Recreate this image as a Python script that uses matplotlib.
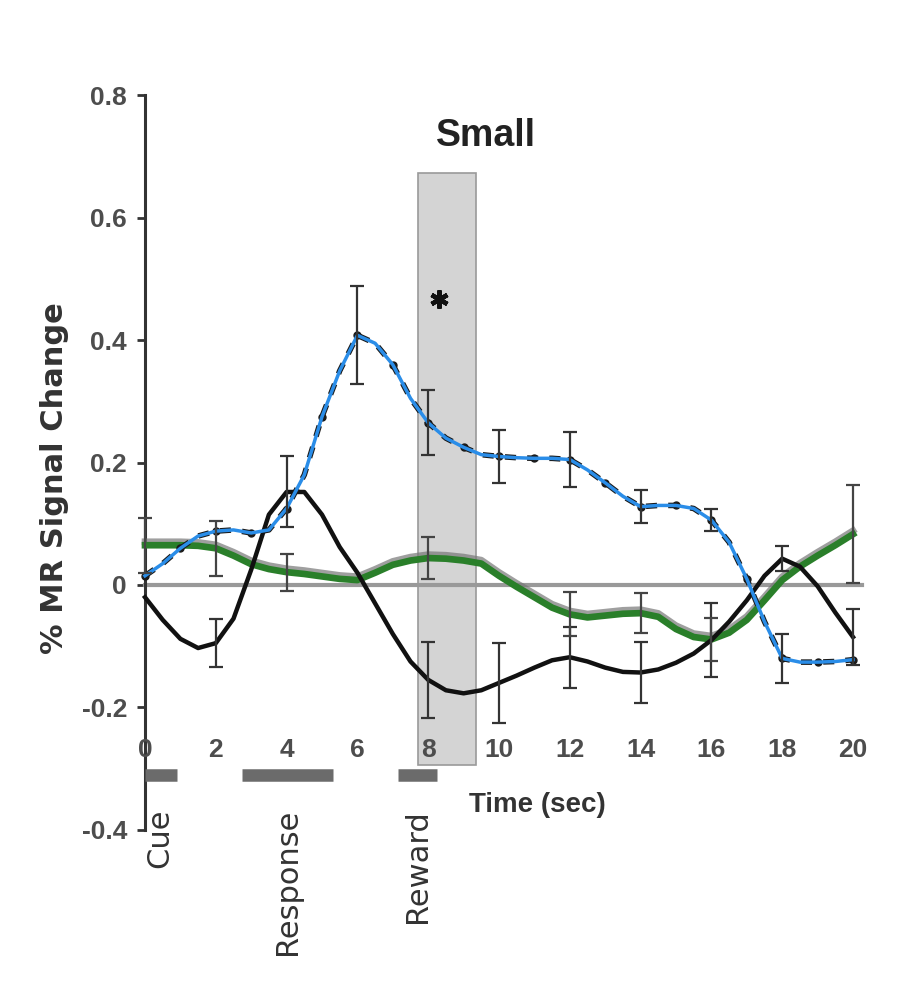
import numpy as np
import matplotlib.pyplot as plt
import matplotlib.patheffects as pe
from matplotlib.patches import Rectangle

# --------------------------------------------
# DATA
# --------------------------------------------

# time axis, 0.5 s steps
time = np.arange(0, 20.5, 0.5)

blue = [0.015, 0.035, 0.06, 0.08, 0.088, 0.09, 0.085, 0.09, 0.125, 0.18,
        0.275, 0.35, 0.408, 0.395, 0.36, 0.305, 0.265, 0.24, 0.225, 0.213,
        0.21, 0.208, 0.207, 0.207, 0.205, 0.188, 0.167, 0.145, 0.128, 0.13,
        0.13, 0.125, 0.106, 0.07, 0.01, -0.06, -0.12, -0.126, -0.126, -0.125,
        -0.122]

black = [-0.02, -0.057, -0.088, -0.103, -0.095, -0.055, 0.025, 0.115, 0.152, 0.152,
         0.115, 0.062, 0.02, -0.03, -0.08, -0.125, -0.155, -0.172, -0.177, -0.172,
         -0.16, -0.148, -0.135, -0.123, -0.118, -0.125, -0.135, -0.142, -0.143, -0.138,
         -0.127, -0.112, -0.09, -0.06, -0.025, 0.015, 0.043, 0.03, -0.002, -0.045,
         -0.085]

green = [0.065, 0.065, 0.065, 0.064, 0.06, 0.048, 0.034, 0.026, 0.021, 0.018,
         0.014, 0.01, 0.008, 0.02, 0.033, 0.04, 0.044, 0.043, 0.04, 0.035,
         0.015, -0.003, -0.02, -0.037, -0.048, -0.053, -0.05, -0.047, -0.046, -0.052,
         -0.072, -0.085, -0.089, -0.078, -0.057, -0.025, 0.008, 0.03, 0.048, 0.065,
         0.083]

# error bars: times and half-lengths
blue_err_t = [6, 8, 10, 12, 14, 16, 18]
blue_err = [0.08, 0.053, 0.043, 0.045, 0.027, 0.018, 0.04]

black_err_t = [2, 4, 8, 10, 12, 14, 16, 18, 20]
black_err = [0.039, 0.058, 0.062, 0.065, 0.05, 0.05, 0.06, 0.02, 0.045]

green_err_t = [0, 2, 4, 8, 12, 14, 16, 20]
green_err = [0.045, 0.045, 0.03, 0.035, 0.036, 0.033, 0.035, 0.08]

# task events (start, end) in seconds
events = ["Cue", "Response", "Reward"]
event_start = [0, 2.75, 7.15]
event_end = [0.9, 5.3, 8.25]

# highlighted window
win_start, win_end = 7.7, 9.35

x_ticks = [0, 2, 4, 6, 8, 10, 12, 14, 16, 18, 20]
y_ticks = [-0.4, -0.2, 0, 0.2, 0.4, 0.6, 0.8]
y_labels = ["-0.4", "-0.2", "0", "0.2", "0.4", "0.6", "0.8"]


# --------------------------------------------
# FIGURE
# --------------------------------------------

tick_font = ["Liberation Sans", "DejaVu Sans"]

fig = plt.figure(figsize=(9.23, 9.94), dpi=100)
W, H = 923, 994
# axes placed in pixels: 0 s -> x=145, 35.4 px/s ; 0 -> y=585, 612 px/unit
left_px, right_px, top_px, bot_px = 100, 900, 60, 960
ax = fig.add_axes([left_px / W, 1 - bot_px / H, (right_px - left_px) / W, (bot_px - top_px) / H])
ax.set_xlim((left_px - 145) / 35.4, (right_px - 145) / 35.4)
ax.set_ylim((585 - bot_px) / 612, (585 - top_px) / 612)

for s in ["top", "right", "bottom"]:
    ax.spines[s].set_visible(False)
ax.spines["left"].set_position(("data", 0))
ax.spines["left"].set_bounds(-0.4, 0.8)
ax.spines["left"].set_linewidth(2.2)
ax.spines["left"].set_color("#333333")
ax.set_xticks([])
ax.set_yticks(y_ticks)
ax.set_yticklabels(y_labels, fontfamily=tick_font, fontweight="bold", fontsize=19, color="#4d4d4d")
ax.tick_params(axis="y", length=6, width=2, color="#333333", pad=7)

# shaded window
ax.add_patch(Rectangle((win_start, -0.294), win_end - win_start, 0.967,
                       facecolor="#d4d4d4", edgecolor="#9a9a9a", lw=1.2, zorder=1))

# zero line
ax.plot([0, 20.25], [0, 0], color="#999999", lw=3, zorder=2)

# green curve with grey shadow
ax.plot(time, green, color="#2a7f2a", lw=4.8, zorder=4,
        path_effects=[pe.SimpleLineShadow(offset=(0, 2.5), shadow_color="#777777", alpha=0.7), pe.Normal()])

# black curve
ax.plot(time, black, color="#111111", lw=3.2, zorder=5)

# blue curve over a black dashed line with dots at each second
ax.plot(time, blue, color="#1a1a1a", lw=4, ls=(0, (2, 2)), marker="o", ms=5,
        markevery=2, zorder=5)
ax.plot(time, blue, color="#2a8de8", lw=2.5, zorder=6)

# error bars
def add_err(ts, errs, series, color):
    ys = [series[int(t * 2)] for t in ts]
    ax.errorbar(ts, ys, yerr=errs, fmt="none", ecolor=color, elinewidth=1.6,
                capsize=5, capthick=1.6, zorder=7)

add_err(blue_err_t, blue_err, blue, "#333333")
add_err(black_err_t, black_err, black, "#333333")
add_err(green_err_t, green_err, green, "#444444")

# significance star
ax.plot(8.3, 0.467, marker=(6, 2, 0), ms=13, mew=3.2, color="#111111", zorder=8)

# x tick labels drawn inside the plot area
for t in x_ticks:
    ax.text(t, -0.27, str(t), ha="center", va="center", fontsize=19,
            fontweight="bold", color="#4d4d4d", fontfamily=tick_font, zorder=9)

# task event bars and labels
ax.hlines([-0.31] * len(events), event_start, event_end, color="#6b6b6b", lw=9, zorder=3)
for name, s, e in zip(events, event_start, event_end):
    mid = (s + e) / 2 if name != "Cue" else 0.42
    ax.text(mid, -0.366, name, rotation=90, ha="center", va="top",
            fontsize=22, color="#333333")

ax.text(11.07, -0.359, "Time (sec)", ha="center", va="center", fontsize=20,
        fontweight="bold", color="#333333", fontfamily=tick_font)

ax.text(9.63, 0.734, "Small", ha="center", va="center", fontsize=27,
        fontweight="bold", color="#222222", fontfamily=tick_font)

fig.text(55 / W, 1 - 478 / H, "% MR Signal Change", rotation=90, ha="center",
         va="center", fontsize=22, fontweight="bold", color="#333333")

fig.savefig("out.png", dpi=100, facecolor="white")
